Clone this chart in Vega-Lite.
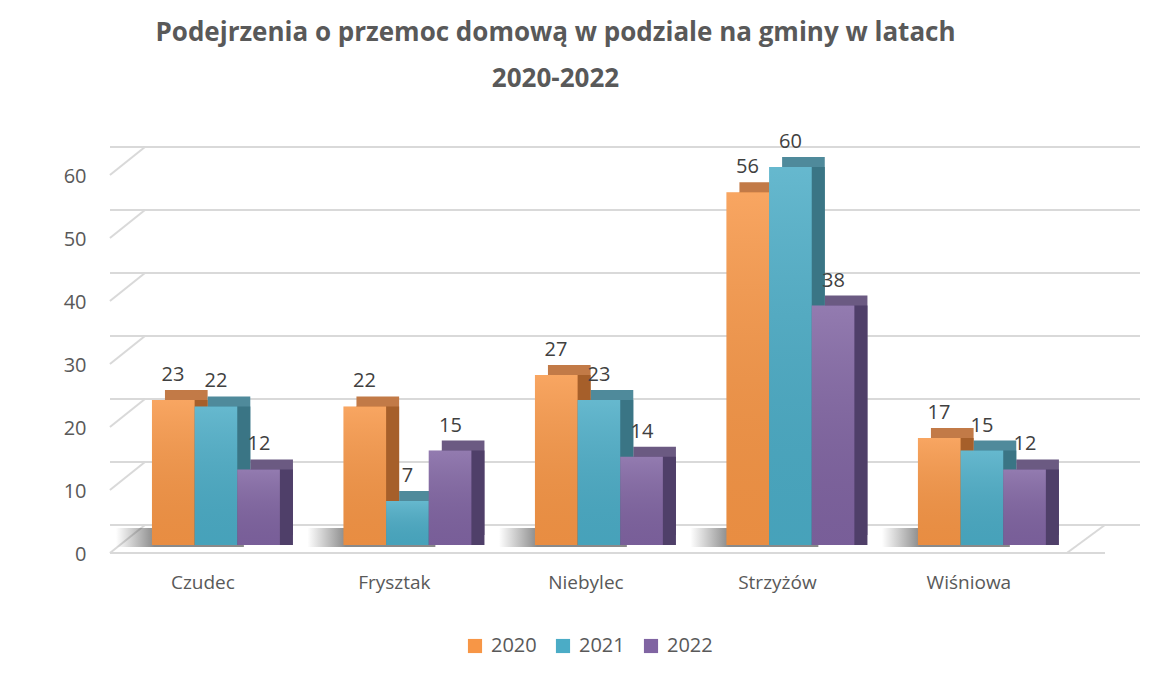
{
  "$schema": "https://vega.github.io/schema/vega-lite/v6.json",
  "width": 995,
  "height": 378,
  "autosize": {"type": "none"},
  "padding": {"left": 110, "top": 167, "right": 46, "bottom": 132},
  "background": "white",
  "config": {"view": {"stroke": null}, "font": "Open Sans"},
  "title": {
    "text": ["Podejrzenia o przemoc domową w podziale na gminy  w latach", "2020-2022"],
    "fontSize": 26,
    "fontWeight": "bold",
    "color": "#595959",
    "lineHeight": 46,
    "anchor": "middle",
    "dx": -52,
    "offset": 40
  },
  "datasets": {
    "bars": [
      {"gmina": "Czudec", "rok": "2020", "v": 23},
      {"gmina": "Czudec", "rok": "2021", "v": 22},
      {"gmina": "Czudec", "rok": "2022", "v": 12},
      {"gmina": "Frysztak", "rok": "2020", "v": 22},
      {"gmina": "Frysztak", "rok": "2021", "v": 7},
      {"gmina": "Frysztak", "rok": "2022", "v": 15},
      {"gmina": "Niebylec", "rok": "2020", "v": 27},
      {"gmina": "Niebylec", "rok": "2021", "v": 23},
      {"gmina": "Niebylec", "rok": "2022", "v": 14},
      {"gmina": "Strzyżów", "rok": "2020", "v": 56},
      {"gmina": "Strzyżów", "rok": "2021", "v": 60},
      {"gmina": "Strzyżów", "rok": "2022", "v": 38},
      {"gmina": "Wiśniowa", "rok": "2020", "v": 17},
      {"gmina": "Wiśniowa", "rok": "2021", "v": 15},
      {"gmina": "Wiśniowa", "rok": "2022", "v": 12}
    ],
    "ticks": [{"t": 0}, {"t": 10}, {"t": 20}, {"t": 30}, {"t": 40}, {"t": 50}, {"t": 60}],
    "gminy": [{"gmina": "Czudec"}, {"gmina": "Frysztak"}, {"gmina": "Niebylec"}, {"gmina": "Strzyżów"}, {"gmina": "Wiśniowa"}]
  },
  "resolve": {"scale": {"color": "independent", "xOffset": "independent"}},
  "layer": [
    {
      "data": {"name": "ticks"},
      "mark": {"type": "rule", "color": "#d9d9d9", "strokeWidth": 2, "yOffset": -20, "xOffset": 35},
      "encoding": {
        "y": {"field": "t", "type": "quantitative", "scale": {"domain": [0, 60], "nice": false},
          "axis": {"values": [0, 10, 20, 30, 40, 50, 60], "grid": false, "domain": false, "ticks": false, "labelPadding": 24, "labelOffset": 9, "labelFontSize": 20, "labelColor": "#595959", "title": null}}
      }
    },
    {
      "data": {"name": "ticks"},
      "mark": {"type": "rule", "color": "#d9d9d9", "strokeWidth": 2, "xOffset": -42, "x2Offset": -7, "yOffset": 8, "y2Offset": -20},
      "encoding": {
        "x": {"datum": "Czudec", "bandPosition": 0, "type": "nominal"},
        "x2": {"datum": "Czudec", "bandPosition": 0},
        "y": {"field": "t", "type": "quantitative"},
        "y2": {"field": "t"}
      }
    },
    {
      "data": {"values": [{"t": 0}]},
      "mark": {"type": "rule", "color": "#d9d9d9", "strokeWidth": 2, "yOffset": 8, "x2Offset": -38},
      "encoding": {
        "y": {"field": "t", "type": "quantitative"}
      }
    },
    {
      "data": {"values": [{"t": 0}]},
      "mark": {"type": "rule", "color": "#d9d9d9", "strokeWidth": 2, "xOffset": 21, "x2Offset": 59, "yOffset": 8, "y2Offset": -20},
      "encoding": {
        "x": {"datum": "Wiśniowa", "bandPosition": 1, "type": "nominal"},
        "x2": {"datum": "Wiśniowa", "bandPosition": 1},
        "y": {"field": "t", "type": "quantitative"},
        "y2": {"field": "t"}
      }
    },
    {
      "data": {"name": "gminy"},
      "mark": {"type": "bar", "xOffset": -36, "yOffset": -17, "y2Offset": 2,
        "color": {"gradient": "linear", "x1": 0, "y1": 0, "x2": 1, "y2": 0, "stops": [{"offset": 0, "color": "rgba(60,60,60,0)"}, {"offset": 0.3, "color": "rgba(60,60,60,0.6)"}, {"offset": 1, "color": "rgba(60,60,60,0.6)"}]}},
      "encoding": {
        "x": {"field": "gmina", "type": "nominal", "sort": null},
        "y": {"datum": 0, "type": "quantitative"},
        "y2": {"datum": 0}
      }
    },
    {
      "data": {"name": "bars"},
      "mark": {"type": "bar", "yOffset": -10, "y2Offset": -10},
      "encoding": {
        "x": {"field": "gmina", "type": "nominal", "sort": null,
          "scale": {"domain": ["Czudec", "Frysztak", "Niebylec", "Strzyżów", "Wiśniowa"], "paddingInner": 0.332, "paddingOuter": 0.264, "align": 0.415},
          "axis": {"domain": false, "ticks": false, "labelPadding": 37, "labelOffset": -13, "labelAlign": "center", "labelFontSize": 19, "labelColor": "#595959", "labelAngle": 0, "title": null}},
        "xOffset": {"field": "rok", "type": "nominal", "scale": {"range": [13, 141], "paddingInner": 0, "paddingOuter": 0}},
        "y": {"field": "v", "type": "quantitative"},
        "color": {"field": "rok", "type": "nominal", "scale": {"domain": ["2020", "2021", "2022"], "range": ["#c27a47", "#4f8a9b", "#6b5a82"]}, "legend": null}
      }
    },
    {
      "data": {"name": "bars"},
      "mark": {"type": "bar", "y2Offset": -10},
      "encoding": {
        "x": {"field": "gmina", "type": "nominal", "sort": null},
        "xOffset": {"field": "rok", "type": "nominal", "scale": {"range": [13, 141], "paddingInner": 0, "paddingOuter": 0}},
        "y": {"field": "v", "type": "quantitative"},
        "color": {"field": "rok", "type": "nominal", "scale": {"domain": ["2020", "2021", "2022"], "range": ["#a65f2a", "#3a7585", "#4f3f69"]}, "legend": null}
      }
    },
    {
      "data": {"name": "bars"},
      "mark": {"type": "bar"},
      "encoding": {
        "x": {"field": "gmina", "type": "nominal", "sort": null},
        "xOffset": {"field": "rok", "type": "nominal", "scale": {"paddingInner": 0, "paddingOuter": 0}},
        "y": {"field": "v", "type": "quantitative"},
        "color": {"field": "rok", "type": "nominal", "scale": {"domain": ["2020", "2021", "2022"], "range": ["#f79646", "#4bacc6", "#8064a2"]},
          "legend": {"orient": "none", "legendX": 355, "legendY": 469, "direction": "horizontal", "title": null, "symbolType": "square", "symbolSize": 200, "symbolStrokeWidth": 0, "labelFontSize": 20, "labelColor": "#595959", "columnPadding": 16, "labelOffset": 6}}
      }
    },
    {
      "data": {"name": "bars"},
      "mark": {"type": "bar", "color": {"gradient": "linear", "x1": 0, "y1": 0, "x2": 0, "y2": 1, "stops": [{"offset": 0, "color": "rgba(255,255,255,0.15)"}, {"offset": 1, "color": "rgba(0,0,0,0.06)"}]}},
      "encoding": {
        "x": {"field": "gmina", "type": "nominal", "sort": null},
        "xOffset": {"field": "rok", "type": "nominal", "scale": {"paddingInner": 0, "paddingOuter": 0}},
        "y": {"field": "v", "type": "quantitative"}
      }
    },
    {
      "data": {"name": "bars"},
      "mark": {"type": "text", "baseline": "middle", "dy": -25, "fontSize": 20, "color": "#404040"},
      "encoding": {
        "x": {"field": "gmina", "type": "nominal", "sort": null},
        "xOffset": {"field": "rok", "type": "nominal", "scale": {"range": [21, 107], "padding": 0}},
        "y": {"field": "v", "type": "quantitative"},
        "text": {"field": "v", "type": "quantitative"}
      }
    }
  ]
}
